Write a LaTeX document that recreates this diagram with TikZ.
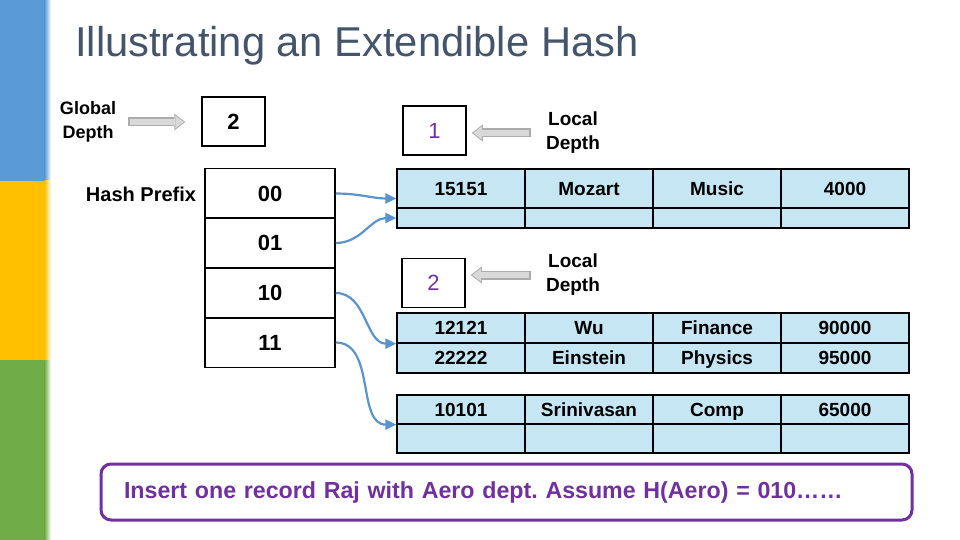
\documentclass[tikz,border=0pt]{standalone}
\usepackage{fontspec}
\setmainfont{Liberation Sans}
\usetikzlibrary{arrows.meta,positioning,calc}
\definecolor{stripeblue}{HTML}{5B9BD5}
\definecolor{stripeyellow}{HTML}{FFC000}
\definecolor{stripegreen}{HTML}{70AD47}
\definecolor{titlegray}{HTML}{44546A}
\definecolor{bucketblue}{HTML}{C5E6F2}
\definecolor{pointerblue}{HTML}{5B94CD}
\definecolor{depthpurple}{HTML}{7030A0}
\frenchspacing

\begin{document}
\begin{tikzpicture}[x=1pt, y=-1pt, every node/.style={inner sep=0pt},
    labeltext/.style={align=center, font=\bfseries\fontsize{19}{24}\selectfont},
    depthbox/.style={draw, line width=1.5pt, minimum width=63pt, minimum height=49pt},
    dircell/.style={draw, line width=1.5pt, minimum width=130pt, minimum height=50pt, font=\bfseries\fontsize{22}{22}\selectfont},
    cell/.style={draw, line width=1.3pt, fill=bucketblue, minimum width=128pt, text height=13.7pt, text depth=0pt, font=\bfseries\fontsize{19}{19}\selectfont},
    ptr/.style={-{Triangle[length=11pt,width=10pt]}, line width=2.2pt, pointerblue},
    grayout/.style={line width=9pt, draw=gray!65, -{Triangle[length=11pt,width=17pt,line width=0pt]}},
    grayin/.style={line width=6pt, draw=gray!30, -{Triangle[length=8.5pt,width=13pt,line width=0pt]}}]
  \useasboundingbox (0,0) rectangle (960,540);
  % side stripes
  \fill[stripeblue] (0,0) rectangle (45,181);
  \fill[stripeyellow] (0,181) rectangle (45,360);
  \fill[stripegreen] (0,360) rectangle (45,540);
  \shade[left color=stripeblue, right color=white] (44.5,0) rectangle (51,181);
  \shade[left color=stripeyellow, right color=white] (44.5,181) rectangle (51,360);
  \shade[left color=stripegreen, right color=white] (44.5,360) rectangle (51,540);

  \node[anchor=base west, font=\fontsize{41.7}{44}\selectfont, text=titlegray] (title) at (75,57) {Illustrating an Extendible Hash};

  % directory
  \node[labeltext, font=\bfseries\fontsize{18}{24}\selectfont] (gdlabel) at (88,122) {Global\\Depth};
  \node[depthbox, font=\bfseries\fontsize{22}{22}\selectfont] (gd) at (233.5,121.5) {2};
  \node[labeltext, font=\bfseries\fontsize{20}{24}\selectfont] (hplabel) at (141,194) {Hash Prefix};
  \foreach \k/\y in {00/193.5,01/243,10/293,11/342.5}
    \node[dircell] (d\k) at (270,\y) {\k};

  % local depths
  \node[depthbox, text=depthpurple, font=\fontsize{22}{22}\selectfont] (ldb1) at (434.5,130.5) {1};
  \node[labeltext] (ld1) at (573,133) {Local\\Depth};
  \node[depthbox, text=depthpurple, font=\fontsize{22}{22}\selectfont] (ldb2) at (433.5,283) {2};
  \node[labeltext] (ld2) at (573,275) {Local\\Depth};

  % buckets
  \foreach \t [count=\i] in {15151,Mozart,Music,4000}
    \node[cell, minimum height=39pt] (b1a\i) at (333+128*\i,188.5) {\t};
  \foreach \i in {1,...,4}
    \node[cell, minimum height=20pt] (b1b\i) at (333+128*\i,218) {};
  \foreach \t [count=\i] in {12121,Wu,Finance,90000}
    \node[cell, minimum height=30pt] (b2a\i) at (333+128*\i,328) {\t};
  \foreach \t [count=\i] in {22222,Einstein,Physics,95000}
    \node[cell, minimum height=30pt] (b2b\i) at (333+128*\i,358) {\t};
  \foreach \t [count=\i] in {10101,Srinivasan,Comp,65000}
    \node[cell, minimum height=29pt] (b3a\i) at (333+128*\i,409.5) {\t};
  \foreach \i in {1,...,4}
    \node[cell, minimum height=29pt] (b3b\i) at (333+128*\i,438.5) {};

  % depth arrows
  \draw[grayout, shorten <=12pt, shorten >=16pt] (gdlabel.east) -- (gdlabel.east -| gd.west);
  \draw[grayin, shorten <=13.5pt, shorten >=17.5pt] (gdlabel.east) -- (gdlabel.east -| gd.west);
  \foreach \n in {1,2}{
    \draw[grayout, shorten <=15pt, shorten >=5pt] (ld\n.west) -- (ld\n.west -| ldb\n.east);
    \draw[grayin, shorten <=16.5pt, shorten >=6.5pt] (ld\n.west) -- (ld\n.west -| ldb\n.east);
  }

  % pointers
  \draw[ptr] (d00.east) to[out=0,in=180] ([yshift=-10pt]b1a1.west);
  \draw[ptr] (d01.east) to[out=0,in=180] (b1b1.west);
  \draw[ptr] (d10.east) to[out=0,in=180] (b2a1.south west);
  \draw[ptr] (d11.east) to[out=0,in=180] (b3a1.south west);

  \node[draw=depthpurple, line width=3pt, rounded corners=10pt, minimum width=811pt, minimum height=56pt,
    text width=765pt, align=left, text=depthpurple, font=\bfseries\fontsize{23.2}{23.2}\selectfont]
    (note) at (506.5,492) {Insert one record Raj with Aero dept. Assume H(Aero) = 010……};
\end{tikzpicture}
\end{document}
